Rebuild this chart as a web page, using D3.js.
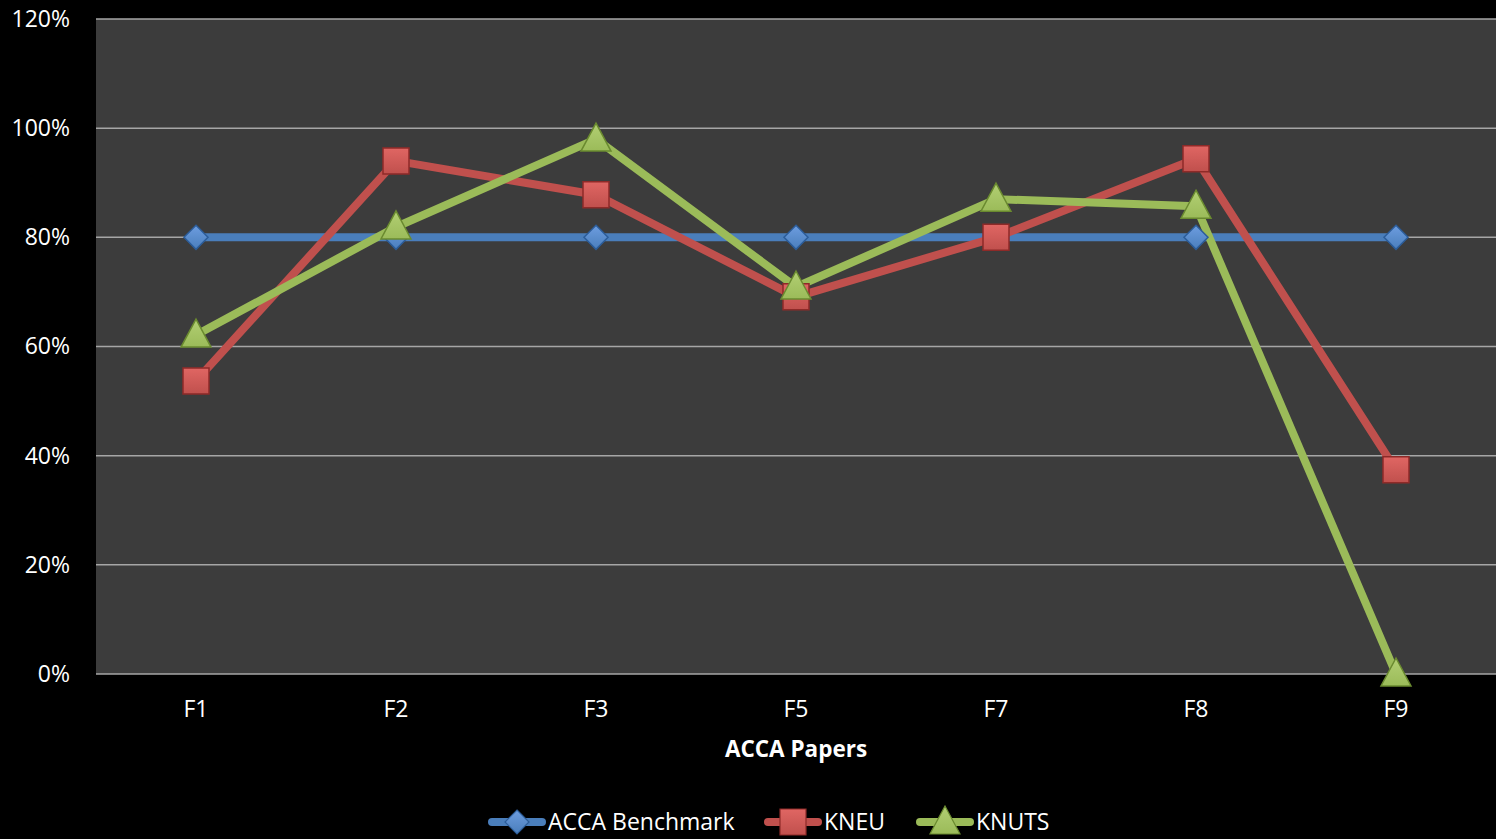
<!DOCTYPE html>
<html><head><meta charset="utf-8">
<script src="https://cdn.jsdelivr.net/npm/d3@7"></script>
<style>body{margin:0;background:#000;}svg{display:block;}</style>
</head><body>
<svg id="c" width="1496" height="839"></svg>
<script>
const categories = ["F1","F2","F3","F5","F7","F8","F9"];
const benchmark = [0.80,0.80,0.80,0.80,0.80,0.80,0.80];
const kneu = [0.537,0.940,0.878,0.691,0.800,0.944,0.374];
const knuts = [0.621,0.819,0.980,0.709,0.870,0.857,0.0];
const yTicks = [0,0.2,0.4,0.6,0.8,1.0,1.2];
const seriesNames = ["ACCA Benchmark","KNEU","KNUTS"];

const series = [
  {name: seriesNames[0], values: benchmark, color:"#4a7ebb", dark:"#2c5d99", light:"#6d9de0", shape:"diamond"},
  {name: seriesNames[1], values: kneu, color:"#c0504d", dark:"#8e2a28", light:"#e06663", shape:"square"},
  {name: seriesNames[2], values: knuts, color:"#9bbb59", dark:"#6a8a2f", light:"#b2cf73", shape:"triangle"}
];

const svg = d3.select("#c");
const font = "'Open Sans', 'Noto Sans', sans-serif";
const m = {l:96, r:1496, t:19, b:674};
const x = d3.scaleBand().domain(categories).range([m.l, m.r]);
const y = d3.scaleLinear().domain([0,1.2]).range([m.b, m.t]);

svg.append("rect").attr("x",m.l).attr("y",m.t).attr("width",m.r-m.l).attr("height",m.b-m.t).attr("fill","#3c3c3c");

svg.append("g").selectAll("line").data(yTicks).join("line")
  .attr("x1",m.l).attr("x2",m.r).attr("y1",d=>y(d)).attr("y2",d=>y(d))
  .attr("stroke","#a6a6a6").attr("stroke-width",1.5);

const yAxis = d3.axisLeft(y).tickValues(yTicks).tickFormat(d3.format(".0%")).tickSize(0).tickPadding(26);
const ya = svg.append("g").attr("transform",`translate(${m.l},0)`).call(yAxis);
ya.select(".domain").remove();
ya.selectAll("text").attr("fill","#fff").style("font-family",font).style("font-size","23px");

const xAxis = d3.axisBottom(x).tickSize(0).tickPadding(27);
const xa = svg.append("g").attr("transform",`translate(0,${m.b})`).call(xAxis);
xa.select(".domain").remove();
xa.selectAll("text").attr("fill","#fff").style("font-family",font).style("font-size","23px");

svg.append("text").attr("x",(m.l+m.r)/2).attr("y",757).attr("text-anchor","middle")
  .attr("fill","#fff").style("font-family",font).style("font-size","22.5px").style("font-weight","bold")
  .text("ACCA Papers");

const defs = svg.append("defs");
series.forEach((s,i)=>{
  const g = defs.append("linearGradient").attr("id","g"+i).attr("x1","0").attr("y1","0").attr("x2","0").attr("y2","1");
  g.append("stop").attr("offset","0%").attr("stop-color",s.light);
  g.append("stop").attr("offset","100%").attr("stop-color",s.color);
});

function markerPath(shape){
  if(shape==="diamond") return "M0,-12L12,0L0,12L-12,0Z";
  if(shape==="square") return "M-13,-13L13,-13L13,13L-13,13Z";
  return "M0,-16L15,12L-15,12Z";
}

const line = d3.line().x((d,i)=>x(categories[i])+x.bandwidth()/2).y(d=>y(d));

series.forEach((s,i)=>{
  svg.append("path").attr("d",line(s.values)).attr("fill","none")
    .attr("stroke",s.color).attr("stroke-width",8).attr("stroke-linejoin","round").attr("stroke-linecap","round");
});
series.forEach((s,i)=>{
  svg.append("g").selectAll("path").data(s.values).join("path")
    .attr("transform",(d,j)=>`translate(${x(categories[j])+x.bandwidth()/2},${y(d)})`)
    .attr("d",markerPath(s.shape)).attr("fill","url(#g"+i+")").attr("stroke",s.dark).attr("stroke-width",1.5);
});

const legendX = [488, 764, 916];
const lg = svg.append("g");
series.forEach((s,i)=>{
  const lx = legendX[i], ly = 822;
  lg.append("line").attr("x1",lx+4).attr("x2",lx+54).attr("y1",ly).attr("y2",ly)
    .attr("stroke",s.color).attr("stroke-width",8).attr("stroke-linecap","round");
  lg.append("path").attr("transform",`translate(${lx+29},${ly})`).attr("d",markerPath(s.shape))
    .attr("fill","url(#g"+i+")").attr("stroke",s.dark).attr("stroke-width",1.2);
  lg.append("text").attr("x",lx+60).attr("y",ly+8).attr("fill","#fff")
    .style("font-family",font).style("font-size","23px").text(s.name);
});
</script>
</body></html>
